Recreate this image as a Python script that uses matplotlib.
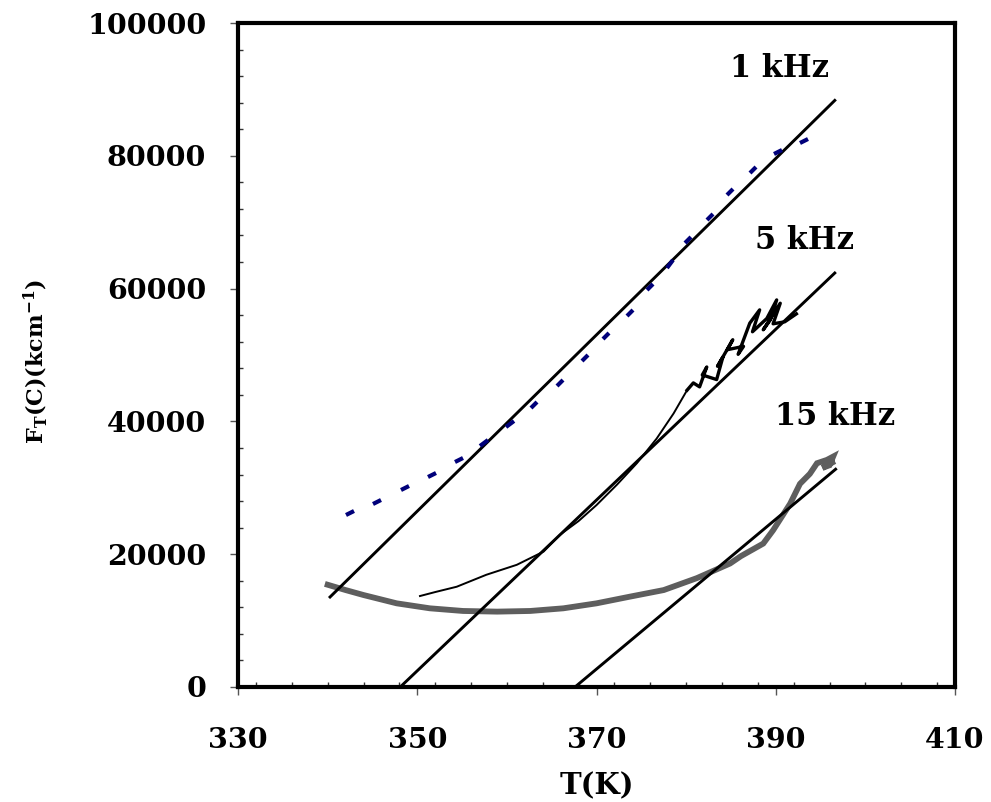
import numpy as np
import matplotlib
matplotlib.use("Agg")
import matplotlib.pyplot as plt
from matplotlib.markers import MarkerStyle
from matplotlib.transforms import Affine2D
from matplotlib.ticker import MultipleLocator

# ---- data -------------------------------------------------------------
# 1 kHz measured points
t_1k = [342.5, 345.5, 348.6, 351.6, 354.6, 357.4, 360.3, 363.0, 365.9, 368.7,
        371.1, 373.7, 376.0, 378.2, 380.2, 382.7, 384.9, 387.5, 390.3, 393.1]
f_1k = [26250, 27900, 29900, 31900, 34200, 36800, 39600, 42500, 45800, 49500,
        52900, 56400, 60200, 63700, 67300, 70800, 74600, 77900, 80600, 82300]

# 5 kHz measured curve (smooth rise, then scattered near the top)
t_5k_smooth = [350.3, 352.0, 354.4, 357.7, 361.1, 364.1, 365.9, 368.0, 370.0,
               372.3, 374.5, 376.7, 378.6, 380.1]
f_5k_smooth = [13700, 14300, 15100, 16900, 18400, 20400, 22900, 25000, 27400,
               30500, 33700, 37400, 41200, 44700]
t_5k_noisy = [380.1, 380.8, 381.5, 382.3, 381.8, 383.4, 384.1, 383.5, 385.2,
              384.6, 386.4, 385.8, 387.1, 388.2, 387.4, 389.0, 390.1, 389.4,
              388.6, 390.5, 389.7, 391.0, 392.3]
f_5k_noisy = [44700, 45800, 45200, 48200, 47000, 46300, 49700, 48300, 52300,
              50800, 51300, 50100, 54800, 56800, 53500, 55500, 58300, 55300,
              53800, 57800, 54700, 55000, 56200]

# 15 kHz measured curve
t_15k = [340.0, 342.0, 344.0, 347.7, 351.4, 355.1, 358.9, 362.6, 366.3, 370.0,
         373.7, 377.5, 381.2, 384.9, 386.1, 388.6, 389.7, 391.6, 392.7, 393.8,
         394.6, 395.7, 396.4, 396.0, 395.2, 396.3]
f_15k = [15400, 14600, 13850, 12600, 11850, 11450, 11350, 11450, 11850, 12600,
         13600, 14600, 16400, 18600, 19700, 21600, 23600, 27600, 30600, 32100,
         33700, 34200, 34700, 33400, 33000, 33800]

# linear fits: F = slope * (T - t_zero), drawn from t_start to t_end
fit_labels = ["1 kHz", "5 kHz", "15 kHz"]
fit_slope = [1328, 1286, 1128]
fit_t_zero = [330.06, 348.1, 367.6]
fit_t_start = [340.15, 348.1, 367.6]
fit_t_end = [396.7, 396.7, 396.8]

# label anchor points (T, F)
label_t = [390.4, 393.2, 396.6]
label_f = [93200, 67300, 40700]

x_ticks = [330, 350, 370, 390, 410]
y_ticks = [0, 20000, 40000, 60000, 80000, 100000]

# ---- figure -----------------------------------------------------------
fig = plt.figure(figsize=(9.91, 8.02), dpi=100)
ax = fig.add_axes([0.2402, 0.1434, 0.7235, 0.8279])
ax.set_xlim(330, 410)
ax.set_ylim(0, 100000)

face = "DejaVu Serif"

# fitted straight lines
for s, t0, ta, tb in zip(fit_slope, fit_t_zero, fit_t_start, fit_t_end):
    tt = np.array([ta, tb])
    ax.plot(tt, s * (tt - t0), color="black", lw=2.1, solid_capstyle="butt",
            zorder=3)

# 15 kHz: thick grey band
ax.plot(t_15k, f_15k, color="#5e5e5e", lw=4.2, solid_joinstyle="miter",
        zorder=2)

# 5 kHz: thin rise then scribbled top
ax.plot(t_5k_smooth, f_5k_smooth, color="black", lw=1.4, zorder=4)
ax.plot(t_5k_noisy, f_5k_noisy, color="black", lw=2.4, zorder=4)

# 1 kHz: short navy dashes oriented along the trend
fig.canvas.draw()
pts = ax.transData.transform(np.column_stack([t_1k, f_1k]))
dx = np.gradient(pts[:, 0])
dy = np.gradient(pts[:, 1])
angles = np.degrees(np.arctan2(dy, dx))
for t, f, a in zip(t_1k, f_1k, angles):
    m = MarkerStyle("_", transform=Affine2D().rotate_deg(a))
    ax.plot([t], [f], linestyle="none", marker=m, markersize=6.5,
            markeredgewidth=3.0, color="#00007a", zorder=5)

for lab, lt, lf in zip(fit_labels, label_t, label_f):
    ax.text(lt, lf, lab, fontfamily=face, fontweight="bold", fontsize=22,
            ha="center", va="center", color="black")

# ---- axes styling -----------------------------------------------------
for sp in ax.spines.values():
    sp.set_linewidth(3.0)
    sp.set_color("black")

ax.set_xticks(x_ticks)
ax.set_yticks(y_ticks)
ax.xaxis.set_minor_locator(MultipleLocator(4))
ax.yaxis.set_minor_locator(MultipleLocator(4000))
ax.tick_params(which="major", direction="out", length=5.8, width=1.0,
               color="#555555")
ax.tick_params(which="minor", direction="in", length=3.6, width=1.0,
               color="#333333")
ax.tick_params(axis="y", which="major", pad=17)
ax.tick_params(axis="x", which="major", pad=23)

ax.set_xticklabels([str(v) for v in x_ticks], fontfamily=face,
                   fontweight="bold", fontsize=20.5)
ax.set_yticklabels([str(v) for v in y_ticks], fontfamily=face,
                   fontweight="bold", fontsize=20.5)

plt.rcParams["mathtext.default"] = "regular"
ax.set_xlabel("T(K)", fontfamily=face, fontweight="bold", fontsize=21)
ax.xaxis.set_label_coords(0.5, -0.127)
ax.set_ylabel(r"F$_{\mathregular{T}}$(C)(kcm$^{\mathregular{-1}}$)",
              fontfamily=face, fontweight="bold", fontsize=16)
ax.yaxis.set_label_coords(-0.262, 0.491)

fig.savefig("out.png", dpi=100)
